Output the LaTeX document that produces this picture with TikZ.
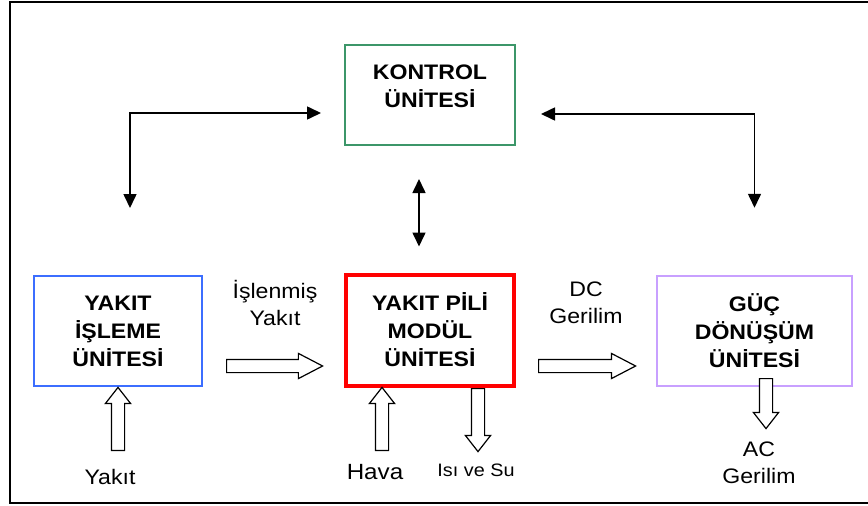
\documentclass[tikz,border=0pt]{standalone}
\usepackage{fontspec}
\setmainfont{Liberation Sans}[FakeStretch=1.1]
\usepackage{xcolor}
\usetikzlibrary{arrows.meta,shapes.arrows,calc}

\definecolor{ctrlgreen}{RGB}{60,150,105}
\definecolor{procblue}{RGB}{60,110,255}
\definecolor{cellred}{RGB}{255,0,0}
\definecolor{convpurple}{RGB}{200,160,255}

\begin{document}
\begin{tikzpicture}[x=1pt,y=-1pt,
    boxtext/.style={align=center, font=\fontsize{21}{28}\selectfont\bfseries},
    unit/.style={boxtext, draw, line width=2pt, minimum width=168pt, minimum height=110pt, inner sep=0pt},
    lbl/.style={align=center, font=\fontsize{21}{27.5}\selectfont},
    ctrl/.style={line width=1.6pt, {Triangle[length=14pt,width=13pt]}-{Triangle[length=14pt,width=13pt]}},
    flow/.style={single arrow, draw, fill=white, line width=1.2pt, inner sep=6pt,
        single arrow head extend=6pt, anchor=tail}]
    \useasboundingbox (0,0) rectangle (868,506);
    \draw[line width=2pt] (10,2) rectangle (880,503);

    \node[unit, draw=ctrlgreen, minimum width=170pt, minimum height=100pt] (kontrol) at (430,95) {};
    \node[boxtext] (kontroltext) at (430,86) {KONTROL\\ÜNİTESİ};
    \node[unit, draw=procblue] (proc) at (118,331) {YAKIT\\İŞLEME\\ÜNİTESİ};
    \node[unit, draw=cellred, line width=4pt, minimum height=111pt] (cell) at (430,330) {YAKIT PİLİ\\MODÜL\\ÜNİTESİ};
    \node[unit, draw=convpurple, line width=2.5pt, minimum width=195pt] (conv) at (754.5,331) {GÜÇ\\DÖNÜŞÜM\\ÜNİTESİ};

    % control lines
    \coordinate (toctrl-l) at ($(kontrol.west)+(-23,18)$);
    \coordinate (toproc) at ($(proc.north)+(12,-67)$);
    \coordinate (toctrl-r) at ($(kontrol.east)+(25,19)$);
    \coordinate (toconv) at ($(conv.north)+(0,-67)$);
    \coordinate (ctrl-bot) at ($(kontrol.south)+(-11,33)$);
    \coordinate (cell-top) at ($(cell.north)+(-11,-26)$);
    \draw[ctrl] (toproc) |- (toctrl-l);
    \draw[ctrl] (toctrl-r) -| (toconv);
    \draw[ctrl] (ctrl-bot) -- (cell-top);

    % flows
    \node[flow, minimum height=96pt, single arrow tip angle=55] (fuelflow) at (226,366) {};
    \node[flow, minimum height=97pt, single arrow tip angle=55] (dcflow) at (538,366) {};
    \node[flow, minimum height=63pt, single arrow tip angle=76, shape border rotate=90] (fuelin) at (118,451) {};
    \node[flow, minimum height=63pt, single arrow tip angle=76, shape border rotate=90] (airin) at (382,451) {};
    \node[flow, minimum height=63pt, single arrow tip angle=76, shape border rotate=270] (heatout) at (478,388) {};
    \node[flow, minimum height=50pt, single arrow tip angle=76, shape border rotate=270] (acout) at (766,378) {};

    \node[lbl] (islenmis) at (275,303) {İşlenmiş\\Yakıt};
    \node[lbl] (dc) at (586,303) {DC\\Gerilim};
    \node[lbl] (yakit) at (110,477) {Yakıt};
    \node[lbl, font=\fontsize{22}{28}\selectfont] (hava) at (375,472) {Hava};
    \node[lbl, font=\fontsize{18}{24}\selectfont] (isi) at (476,470) {Isı ve Su};
    \node[lbl] (ac) at (759,463) {AC\\Gerilim};
\end{tikzpicture}
\end{document}
